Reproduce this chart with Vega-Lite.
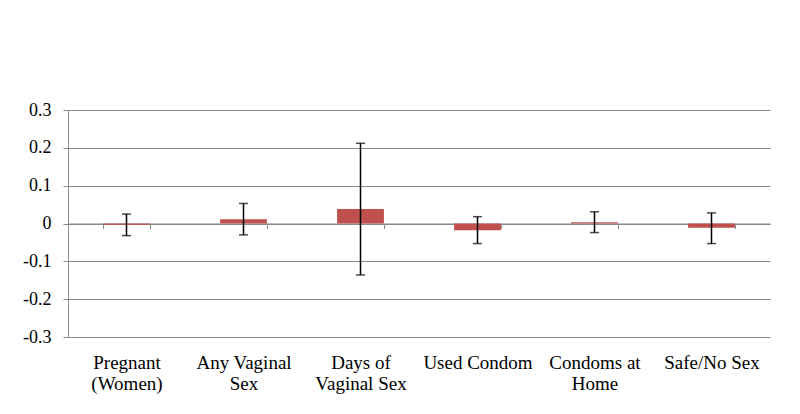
{
  "$schema": "https://vega.github.io/schema/vega-lite/v6.json",
  "width": 702,
  "height": 227,
  "autosize": "none",
  "padding": {"left": 68, "top": 110, "right": 30, "bottom": 77},
  "background": "white",
  "config": {"view": {"stroke": null}, "font": "Liberation Serif"},
  "data": {
    "values": [
      {"outcome": "Pregnant (Women)", "estimate": -0.003, "lower": -0.032, "upper": 0.025},
      {"outcome": "Any Vaginal Sex", "estimate": 0.011, "lower": -0.030, "upper": 0.053},
      {"outcome": "Days of Vaginal Sex", "estimate": 0.038, "lower": -0.136, "upper": 0.212},
      {"outcome": "Used Condom", "estimate": -0.018, "lower": -0.053, "upper": 0.018},
      {"outcome": "Condoms at Home", "estimate": 0.003, "lower": -0.024, "upper": 0.031},
      {"outcome": "Safe/No Sex", "estimate": -0.011, "lower": -0.053, "upper": 0.028}
    ]
  },
  "encoding": {
    "x": {
      "field": "outcome",
      "type": "nominal",
      "sort": null,
      "scale": {"paddingInner": 0.6, "paddingOuter": 0.3},
      "axis": {
        "orient": "bottom",
        "offset": -113.5,
        "title": null,
        "tickBand": "extent",
        "tickSize": 5,
        "tickColor": "#898989",
        "domainColor": "#898989",
        "labelPadding": 125,
        "labelAngle": 0,
        "labelFontSize": 19,
        "labelColor": "black",
        "labelLineHeight": 21,
        "labelOverlap": false,
        "labelExpr": "datum.value == 'Pregnant (Women)' ? ['Pregnant', '(Women)'] : datum.value == 'Any Vaginal Sex' ? ['Any Vaginal', 'Sex'] : datum.value == 'Days of Vaginal Sex' ? ['Days of', 'Vaginal Sex'] : datum.value == 'Condoms at Home' ? ['Condoms at', 'Home'] : datum.label"
      }
    }
  },
  "layer": [
    {
      "mark": {"type": "bar", "color": "#C0504D"},
      "encoding": {
        "y": {
          "field": "estimate",
          "type": "quantitative",
          "scale": {"domain": [-0.3, 0.3], "nice": false},
          "axis": {
            "title": null,
            "values": [-0.3, -0.2, -0.1, 0, 0.1, 0.2, 0.3],
            "tickCount": 20,
            "grid": true,
            "gridColor": "#898989",
            "gridOpacity": 1,
            "domainColor": "#898989",
            "tickColor": "#898989",
            "tickSize": 5,
            "labelPadding": 12,
            "labelFontSize": 18,
            "labelColor": "black",
            "labelOverlap": false,
            "labelExpr": "datum.value == 0 ? '0' : toString(round(datum.value * 10) / 10)"
          }
        }
      }
    },
    {
      "mark": {"type": "rule", "color": "black", "strokeWidth": 1.5},
      "encoding": {
        "y": {"field": "lower", "type": "quantitative"},
        "y2": {"field": "upper"}
      }
    },
    {
      "mark": {"type": "tick", "color": "black", "thickness": 1.5, "size": 9, "orient": "horizontal"},
      "encoding": {"y": {"field": "lower", "type": "quantitative"}}
    },
    {
      "mark": {"type": "tick", "color": "black", "thickness": 1.5, "size": 9, "orient": "horizontal"},
      "encoding": {"y": {"field": "upper", "type": "quantitative"}}
    }
  ]
}
